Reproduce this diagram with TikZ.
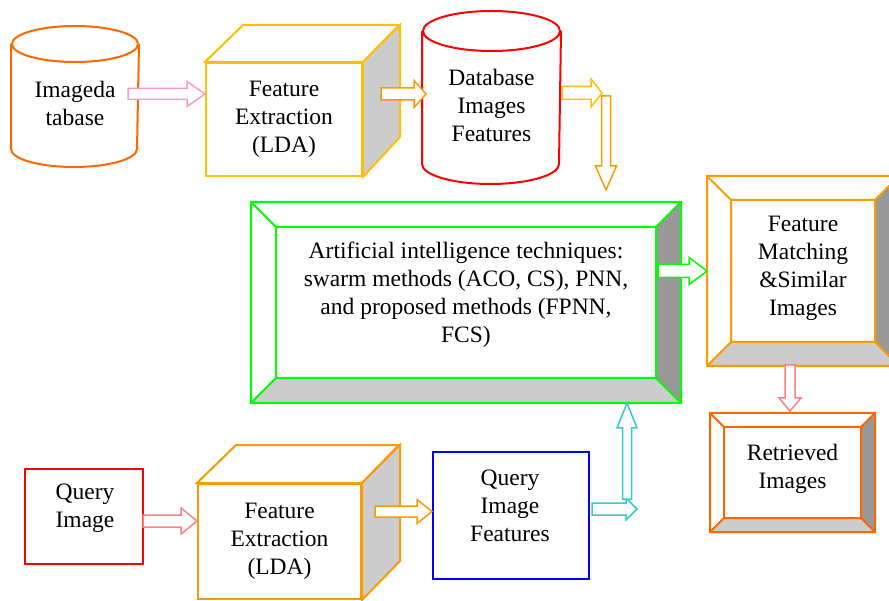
\documentclass[tikz,border=0pt]{standalone}
\usepackage{fontspec}
\setmainfont{Liberation Serif}
\usetikzlibrary{calc,positioning}
\definecolor{dbred}{RGB}{255,0,0}
\definecolor{dborange}{RGB}{255,102,0}
\definecolor{cubeyellow}{RGB}{255,192,0}
\definecolor{boxorange}{RGB}{255,153,0}
\definecolor{aigreen}{RGB}{0,255,0}
\definecolor{qblue}{RGB}{0,0,255}
\definecolor{arrpink}{RGB}{255,153,204}
\definecolor{arrsalmon}{RGB}{255,128,128}
\definecolor{arrcyan}{RGB}{51,204,204}
\definecolor{shadelight}{RGB}{204,204,204}
\definecolor{shadedark}{RGB}{153,153,153}
\tikzset{
    lbl/.style={align=center, font=\fontsize{23.5}{28}\selectfont, inner sep=0pt},
    face/.style={inner sep=0pt, line width=2pt},
    % hollow block arrows
    arrowline/.style={line width=1.5pt, fill=white, line join=miter}
}
% block arrow: [colour]{from}{to}{shaft half width}{head half width}{head length}
\newcommand{\hollowarrow}[6][black]{%
    \coordinate (ah) at ($(#3)!#6pt!(#2)$);
    \draw[arrowline,draw=#1] ($(#2)!#4pt!90:(#3)$) -- ($(ah)!#4pt!-90:(#2)$)
        -- ($(ah)!#5pt!-90:(#2)$) -- (#3) -- ($(ah)!#5pt!90:(#2)$)
        -- ($(ah)!#4pt!90:(#2)$) -- ($(#2)!#4pt!-90:(#3)$) -- cycle;
}
% bevelled frame round a node: {node}{depth}{colour}
\newcommand{\bevelframe}[3]{%
    \fill[shadelight] ($(#1.south west)+(#2,-#2)$) -- (#1.south west) -- (#1.south east)
        -- ($(#1.south east)+(-#2,-#2)$) -- cycle;
    \fill[shadedark] ($(#1.north east)+(-#2,#2)$) -- (#1.north east) -- (#1.south east)
        -- ($(#1.south east)+(-#2,-#2)$) -- cycle;
    \draw[#3,line width=2pt] (#1.north west) rectangle (#1.south east)
        ($(#1.north west)+(#2,#2)$) rectangle ($(#1.south east)+(-#2,-#2)$)
        (#1.north west) -- ++(#2,#2) (#1.north east) -- ++(-#2,#2)
        (#1.south west) -- ++(#2,-#2) (#1.south east) -- ++(-#2,-#2);
}

\begin{document}
\begin{tikzpicture}[x=1pt,y=-1pt]
    \useasboundingbox (0,0) rectangle (889,601);
    \clip (0,0) rectangle (889,601);

    % cylinders
    \node[face,minimum width=126,minimum height=103] (imgdb) at (75,96.5) {};
    \draw[dborange,line width=2pt] (imgdb.north west) -- (imgdb.south west)
        arc[start angle=180,end angle=360,x radius=63pt,y radius=18pt] -- (imgdb.north east)
        (imgdb.north) ellipse [x radius=63pt,y radius=18pt];
    \node[lbl] (imgdbtext) at ($(imgdb)+(0,7)$) {Imageda\\tabase};

    \node[face,minimum width=137,minimum height=131] (dbfeat) at (491.5,97.5) {};
    \draw[dbred,line width=2pt] (dbfeat.north west) -- (dbfeat.south west)
        arc[start angle=180,end angle=360,x radius=68.5pt,y radius=20pt] -- (dbfeat.north east)
        (dbfeat.north) ellipse [x radius=68.5pt,y radius=20pt];
    \node[lbl] (dbfeattext) at ($(dbfeat)+(0,8)$) {Database\\Images\\Features};

    % cubes
    \node[face,draw=cubeyellow,lbl,minimum width=156,minimum height=113] (fe1) at (284,119.5)
        {Feature\\Extraction\\(LDA)};
    \filldraw[cubeyellow,line width=2pt,fill=white] (fe1.north west) -- ++(38,-37)
        -- ++(156,0) -- (fe1.north east) -- cycle;
    \filldraw[cubeyellow,line width=2pt,fill=shadelight] (fe1.north east) -- ++(37,-37)
        -- ++(0,112) -- (fe1.south east) -- cycle;

    \node[face,draw=boxorange,lbl,minimum width=163,minimum height=115] (fe2) at (279.5,541.5)
        {Feature\\Extraction\\(LDA)};
    \filldraw[boxorange,line width=2pt,fill=white] (fe2.north west) -- ++(39,-38)
        -- ++(163,0) -- (fe2.north east) -- cycle;
    \filldraw[boxorange,line width=2pt,fill=shadelight] (fe2.north east) -- ++(38,-38)
        -- ++(0,116) -- (fe2.south east) -- cycle;

    % bevelled frames
    \node[face,minimum width=428,minimum height=199] (ai) at (466,302.5) {};
    \bevelframe{ai}{25}{aigreen}
    \node[lbl] (aitext) at (466,295) {Artificial intelligence techniques:\\swarm methods (ACO, CS), PNN,\\and proposed methods (FPNN,\\FCS)};

    \node[face,minimum width=190,minimum height=188] (fm) at (803,271) {};
    \bevelframe{fm}{24}{boxorange}
    \node[lbl] (fmtext) at ($(fm)+(0,-2.5)$) {Feature\\Matching\\\&Similar\\Images};

    \node[face,minimum width=163,minimum height=117] (rt) at (792.5,472.5) {};
    \bevelframe{rt}{14}{dborange}
    \node[lbl] (rttext) at ($(rt)+(0,-4)$) {Retrieved\\Images};

    % plain boxes
    \node[face,draw=dbred,minimum width=118,minimum height=95] (qimg) at (84,516.5) {};
    \node[lbl] (qimgtext) at ($(qimg)+(1,-8)$) {Query\\Image};
    \node[face,draw=qblue,minimum width=156,minimum height=127] (qfeat) at (511,515.5) {};
    \node[lbl] (qfeattext) at ($(qfeat)+(-1,-10)$) {Query\\Image\\Features};

    % arrow ends
    \path (128,94) coordinate (p1) (381,94) coordinate (p2) (562,93) coordinate (p3)
    (606,96) coordinate (p4) (658,271) coordinate (p5) (790,365) coordinate (p6)
    (143,521) coordinate (p7) (375,511.5) coordinate (p8) (592,509) coordinate (p9)
    (627,499) coordinate (p10);
    \coordinate (q1) at (p1 -| fe1.west);
    \coordinate (q2) at ($(p2 -| dbfeat.west)+(4,0)$);
    \coordinate (q3) at (602,93);
    \coordinate (q4) at ($(p4 |- ai.north)+(0,-12)$);
    \coordinate (q5) at (p5 -| fm.west);
    \coordinate (q6) at ($(p6 |- rt.north)+(0,-2)$);
    \coordinate (q7) at (p7 -| fe2.west);
    \coordinate (q8) at (p8 -| qfeat.west);
    \coordinate (q9) at (637,509);
    \coordinate (q10) at (p10 |- ai.south);

    \hollowarrow[arrpink]{p1}{q1}{5.5}{12.5}{18}
    \hollowarrow[boxorange]{p2}{q2}{6}{13.5}{12}
    \hollowarrow[cubeyellow]{p3}{q3}{6.5}{14}{11}
    \hollowarrow[boxorange]{p4}{q4}{4.5}{10.5}{24}
    \hollowarrow[aigreen]{p5}{q5}{6.5}{13.5}{18}
    \hollowarrow[arrsalmon]{p6}{q6}{5}{11}{13}
    \hollowarrow[arrsalmon]{p7}{q7}{6}{13}{16}
    \hollowarrow[boxorange]{p8}{q8}{5.5}{12}{15}
    \hollowarrow[arrcyan]{p9}{q9}{6}{11}{11}
    \hollowarrow[arrcyan]{p10}{q10}{4.5}{10}{25}
\end{tikzpicture}
\end{document}
